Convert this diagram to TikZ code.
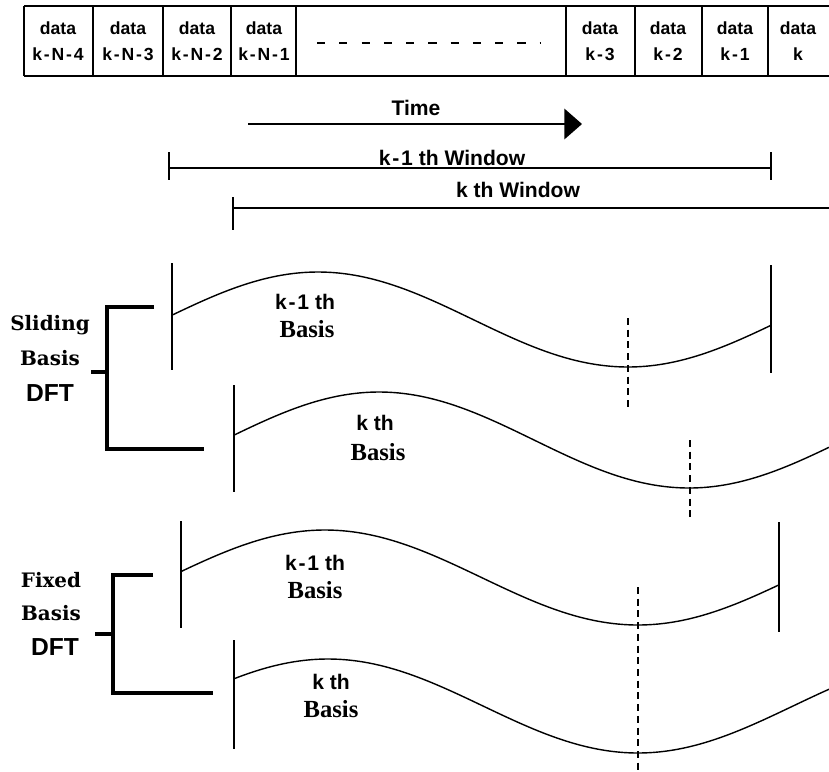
\documentclass[tikz,border=0pt]{standalone}
\usepackage{fontspec}
\setmainfont{Liberation Serif}
\newfontfamily\labfont{Liberation Sans}
\newfontfamily\slabfont{DejaVu Serif}
\usetikzlibrary{arrows.meta}
\newcommand\hy{\kern1.6pt-\kern1.6pt}

\begin{document}
\begin{tikzpicture}[x=0.03cm,y=-0.03cm,
  cell/.style={font=\labfont\bfseries\fontsize{15}{15}\selectfont,inner sep=0pt},
  lab/.style={font=\labfont\bfseries\fontsize{18}{18}\selectfont,inner sep=0pt},
  basis/.style={font=\bfseries\fontsize{21}{21}\selectfont,inner sep=0pt},
  side/.style={font=\slabfont\bfseries\fontsize{17}{17}\selectfont,inner sep=0pt},
  dft/.style={font=\labfont\bfseries\fontsize{21}{21}\selectfont,inner sep=0pt},
  wave/.style={line width=1.2pt},
  bar/.style={line width=1.1pt},
  brk/.style={line width=3pt},
  mark line/.style={line width=1.1pt,dash pattern=on 6pt off 4pt}]
  \useasboundingbox (0,0) rectangle (829,771);
  \draw[line width=1.5pt] (24,6)--(829,6) (24,76)--(829,76);
  \foreach \xa in {24,93,163,231,296,566,635,702,768}
    \draw[line width=1.5pt] (\xa,6)--(\xa,76);
  \foreach \xc/\lbl/\nm in {58/k\hy N\hy 4/c1,128/k\hy N\hy 3/c2,197/k\hy N\hy 2/c3,264/k\hy N\hy 1/c4,
      600/k\hy 3/c5,668/k\hy 2/c6,735/k\hy 1/c7,798/k/c8}{
    \node[cell] (\nm top) at (\xc,28) {data};
    \node[cell] (\nm) at (\xc,54) {\lbl};
  }
  \draw[line width=1.8pt,dash pattern=on 7pt off 12pt] (317,43)--(540,43);

  \node[lab] (time) at (416,108) {Time};
  \coordinate (t0) at (248,124);
  \coordinate (t1) at (582,124);
  \draw[bar,-{Triangle[length=15pt,width=26pt]}] (t0)--(t1);

  \node[lab] (w1) at (452,158) {k\hy 1 th Window};
  \coordinate (w1a) at (169,168);
  \coordinate (w1b) at (771,168);
  \draw[bar] (w1a)--(w1b);
  \draw[bar] (169,152)--(169,180) (771,152)--(771,180);
  \node[lab] (w2) at (518,190) {k th Window};
  \coordinate (w2a) at (233,208);
  \coordinate (w2b) at (829,208);
  \draw[bar] (w2a)--(w2b);
  \draw[bar] (233,197)--(233,230);

  \node[side] (sl1) at (50,325) {Sliding};
  \node[side] (sl2) at (50,358) {Basis};
  \node[dft] (sl3) at (50,393) {DFT};
  \draw[brk] (154,307)--(107,307)--(107,449)--(204,449);
  \draw[brk] (91,372)--(107,372);
  \draw[bar] (172,263)--(172,370) (771,265)--(771,373) (234,385)--(234,492);
  \draw[wave] plot[domain=172:771,samples=120] (\x,{319.5-47.5*cos(0.5806*(\x-318))});
  \draw[wave] plot[domain=234:829,samples=120] (\x,{440-48*cos(0.5806*(\x-379))});
  \draw[mark line] (628,318)--(628,410) (690,440)--(690,517);
  \node[lab] (s1a) at (305,302) {k\hy 1 th};
  \node[basis] (s1b) at (307,329) {Basis};
  \node[lab] (s2a) at (375,423) {k th};
  \node[basis] (s2b) at (378,452) {Basis};

  \node[side] (fx1) at (51,580) {Fixed};
  \node[side] (fx2) at (51,613) {Basis};
  \node[dft] (fx3) at (55,647) {DFT};
  \draw[brk] (153,575)--(113,575)--(113,693)--(213,693);
  \draw[brk] (95,634)--(113,634);
  \draw[bar] (181,521)--(181,628) (779,522)--(779,632) (234,640)--(234,749);
  \draw[wave] plot[domain=181:779,samples=120] (\x,{577.5-47.5*cos(0.5751*(\x-325))});
  \draw[wave] plot[domain=234:829,samples=120] (\x,{706-47*cos(0.5806*(\x-328))});
  \draw[mark line] (638,587)--(638,771);
  \node[lab] (f1a) at (315,563) {k\hy 1 th};
  \node[basis] (f1b) at (315,590) {Basis};
  \node[lab] (f2a) at (331,682) {k th};
  \node[basis] (f2b) at (331,709) {Basis};
\end{tikzpicture}
\end{document}
